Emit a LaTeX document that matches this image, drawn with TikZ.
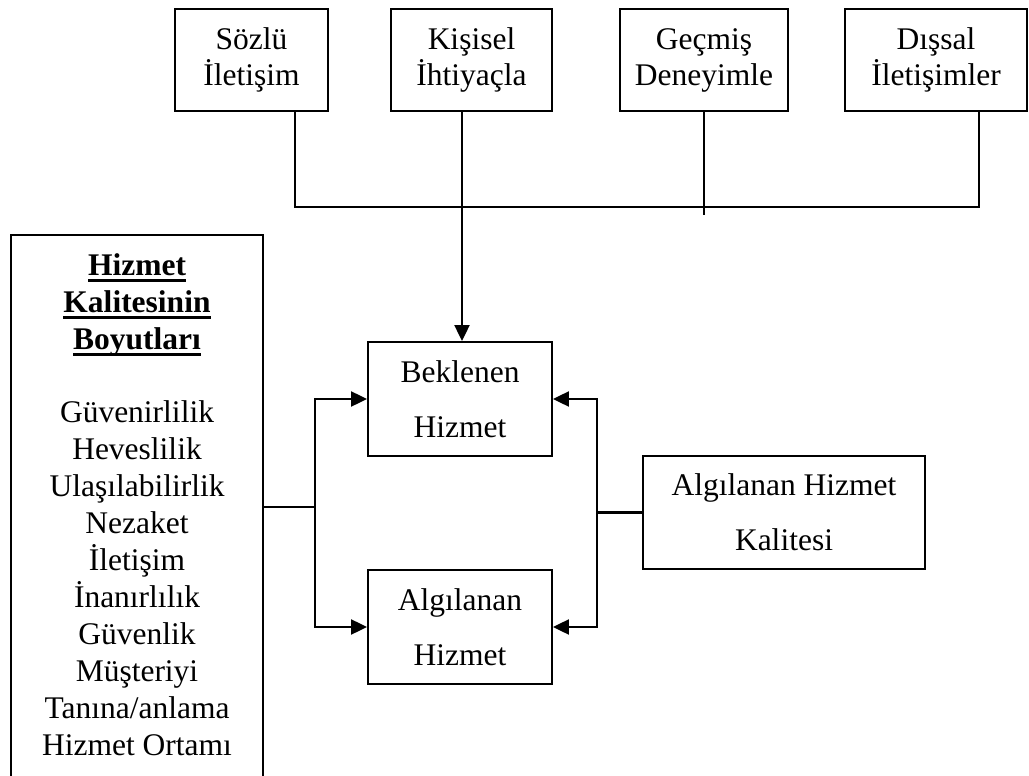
\documentclass[tikz,border=0pt]{standalone}
\usepackage{fontspec}
\setmainfont{Liberation Serif}
\usetikzlibrary{arrows.meta}
% underline drawn as a heavy bar just under the baseline
\newcommand{\ulbar}[1]{\setbox0\hbox{#1}\rlap{\rule[-7pt]{\wd0}{2.6pt}}\box0}
\begin{document}
\begin{tikzpicture}[x=1pt,y=-1pt,
  txt/.style={font=\fontsize{31.5}{36}\selectfont, align=center, inner sep=0pt},
  framebox/.style={draw, line width=1.9pt, txt},
  widebox/.style={framebox, font=\fontsize{31.5}{55}\selectfont},
  bus/.style={line width=1.5pt},
  link/.style={line width=2.2pt},
  feed/.style={link, -{Triangle[length=16pt,width=15pt]}}]
\clip (0,0) rectangle (1029,776);
\fill[white] (0,0) rectangle (1029,776);

% sources of expectation
\node[framebox, minimum width=153, minimum height=102] (s1) at (251.5,60) {Sözlü\\İletişim};
\node[framebox, minimum width=161, minimum height=102] (s2) at (471.5,60) {Kişisel\\İhtiyaçla};
\node[framebox, minimum width=168, minimum height=102] (s3) at (704,60) {Geçmiş\\Deneyimle};
\node[framebox, minimum width=182, minimum height=102] (s4) at (936,60) {Dışsal\\İletişimler};

% service boxes
\node[widebox, minimum width=184, minimum height=114] (bk) at (460,399) {Beklenen\\Hizmet};
\node[widebox, minimum width=184, minimum height=114] (al) at (460,627) {Algılanan\\Hizmet};
\node[widebox, minimum width=282, minimum height=113] (ahk) at (784,512.5) {Algılanan Hizmet\\Kalitesi};

% dimensions panel (runs off the lower edge)
\node[draw, line width=1.9pt, minimum width=252, minimum height=565, inner sep=0pt] (dim) at (137,517.5) {};
\node[txt, font=\fontsize{31.5}{37}\selectfont, anchor=north] (dimtext) at (137,253)
  {\textbf{\ulbar{Hizmet}}\\\textbf{\ulbar{Kalitesinin}}\\\textbf{\ulbar{Boyutları}}\\[36pt]
   Güvenirlilik\\Heveslilik\\Ulaşılabilirlik\\Nezaket\\İletişim\\İnanırlılık\\Güvenlik\\Müşteriyi\\Tanına/anlama\\Hizmet Ortamı};

% collecting bus under the top row
\coordinate (busL) at (295,207);
\coordinate (busR) at (979,207);
\coordinate (s3end) at (704,215);
\coordinate (down) at (462,207);
\draw[bus] (s1.south -| busL) -- (busL) -- (busR) -- (s4.south -| busR);
\draw[bus] (s3.south -| s3end) -- (s3end);
\draw[feed] (s2.south -| down) -- (bk.north -| down);

% left fork
\coordinate (lj) at (315,507);
\draw[link] (dim.east |- lj) -- (lj);
\draw[feed] (lj) |- (bk.west);
\draw[feed] (lj) |- (al.west);

% right fork
\coordinate (rj) at (597,512.5);
\draw[link] (ahk.west) -- (rj);
\draw[feed] (rj) |- (bk.east);
\draw[feed] (rj) |- (al.east);
\end{tikzpicture}
\end{document}
